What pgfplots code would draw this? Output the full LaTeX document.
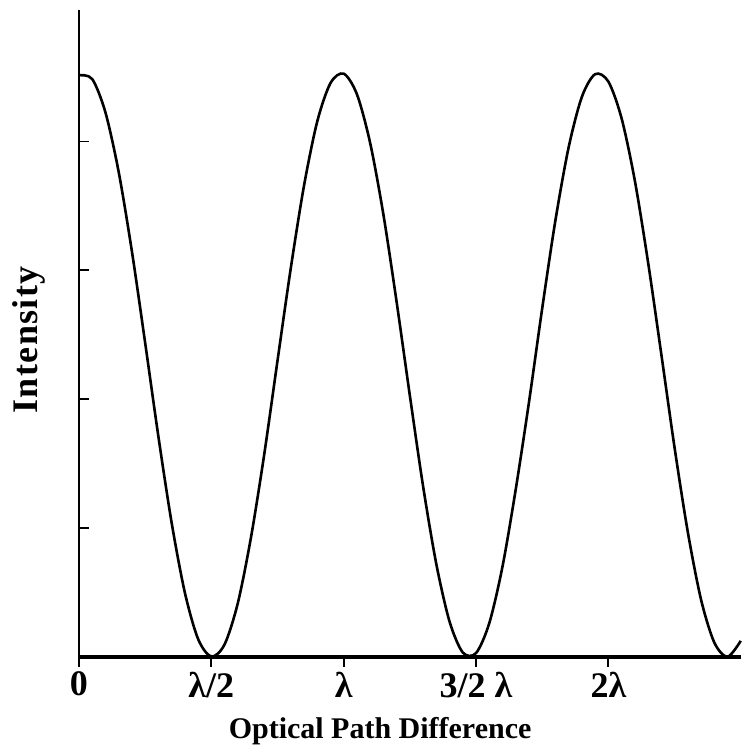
\documentclass[border=0pt]{standalone}
\usepackage{pgfplots}
\pgfplotsset{compat=1.18}
\usepackage{fontspec}
\setmainfont{Liberation Serif}

\begin{document}
\begin{tikzpicture}
\begin{axis}[
  scale only axis, width=331pt, height=323.5pt,
  xmin=0, xmax=2.5, ymin=0, ymax=5.02,
  axis x line=bottom, axis y line=left,
  y axis line style={-, line width=1pt},
  x axis line style={-, line width=2.2pt},
  xtick align=outside,
  ytick align=inside,
  major tick length=5pt,
  xtick={0,0.5,1,1.5,2},
  xticklabels={0, λ/2, λ, 3/2 λ, 2λ},
  xtick style={black, line width=1pt},
  ytick={0,1,2,3,4},
  yticklabels={},
  ytick style={black, line width=0.8pt},
  xticklabel style={font=\fontsize{18}{18}\selectfont\bfseries, yshift=1pt},
  xlabel={Optical Path Difference},
  xlabel style={font=\fontsize{15}{16}\selectfont\bfseries, at={(axis description cs:0.455,0)}, anchor=north, yshift=-27pt},
  ylabel={Intensity},
  ylabel style={font=\fontsize{18}{18}\selectfont\bfseries\addfontfeatures{LetterSpace=4}, at={(axis description cs:0,0.49)}, anchor=center, yshift=25pt},
  clip=false,
]
\addplot[black, line width=1.3pt, smooth] coordinates {
(0.00,4.513) (0.05,4.484) (0.10,4.225) (0.15,3.763) (0.20,3.146) (0.25,2.437)
(0.30,1.710) (0.35,1.041) (0.40,0.498) (0.45,0.138) (0.50,0.002) (0.55,0.096)
(0.60,0.416) (0.65,0.929) (0.70,1.573) (0.75,2.298) (0.80,3.014) (0.85,3.655)
(0.90,4.154) (0.95,4.452) (1.00,4.526) (1.05,4.366) (1.10,3.988) (1.15,3.433)
(1.20,2.754) (1.25,2.027) (1.30,1.323) (1.35,0.719) (1.40,0.273) (1.45,0.033)
(1.50,0.029) (1.55,0.261) (1.60,0.701) (1.65,1.300) (1.70,1.976) (1.75,2.705)
(1.80,3.389) (1.85,3.956) (1.90,4.347) (1.95,4.522) (2.00,4.464) (2.05,4.178)
(2.10,3.694) (2.15,3.060) (2.20,2.347) (2.25,1.623) (2.30,0.968) (2.35,0.444)
(2.40,0.111) (2.45,0.000) (2.50,0.124)
};
\path (rel axis cs:0,0) ++(-39.5pt,-47.5pt) coordinate (bl);
\path (rel axis cs:1,1) ++(0pt,5pt) coordinate (tr);
\useasboundingbox (bl) rectangle (tr);
\end{axis}
\end{tikzpicture}
\end{document}
